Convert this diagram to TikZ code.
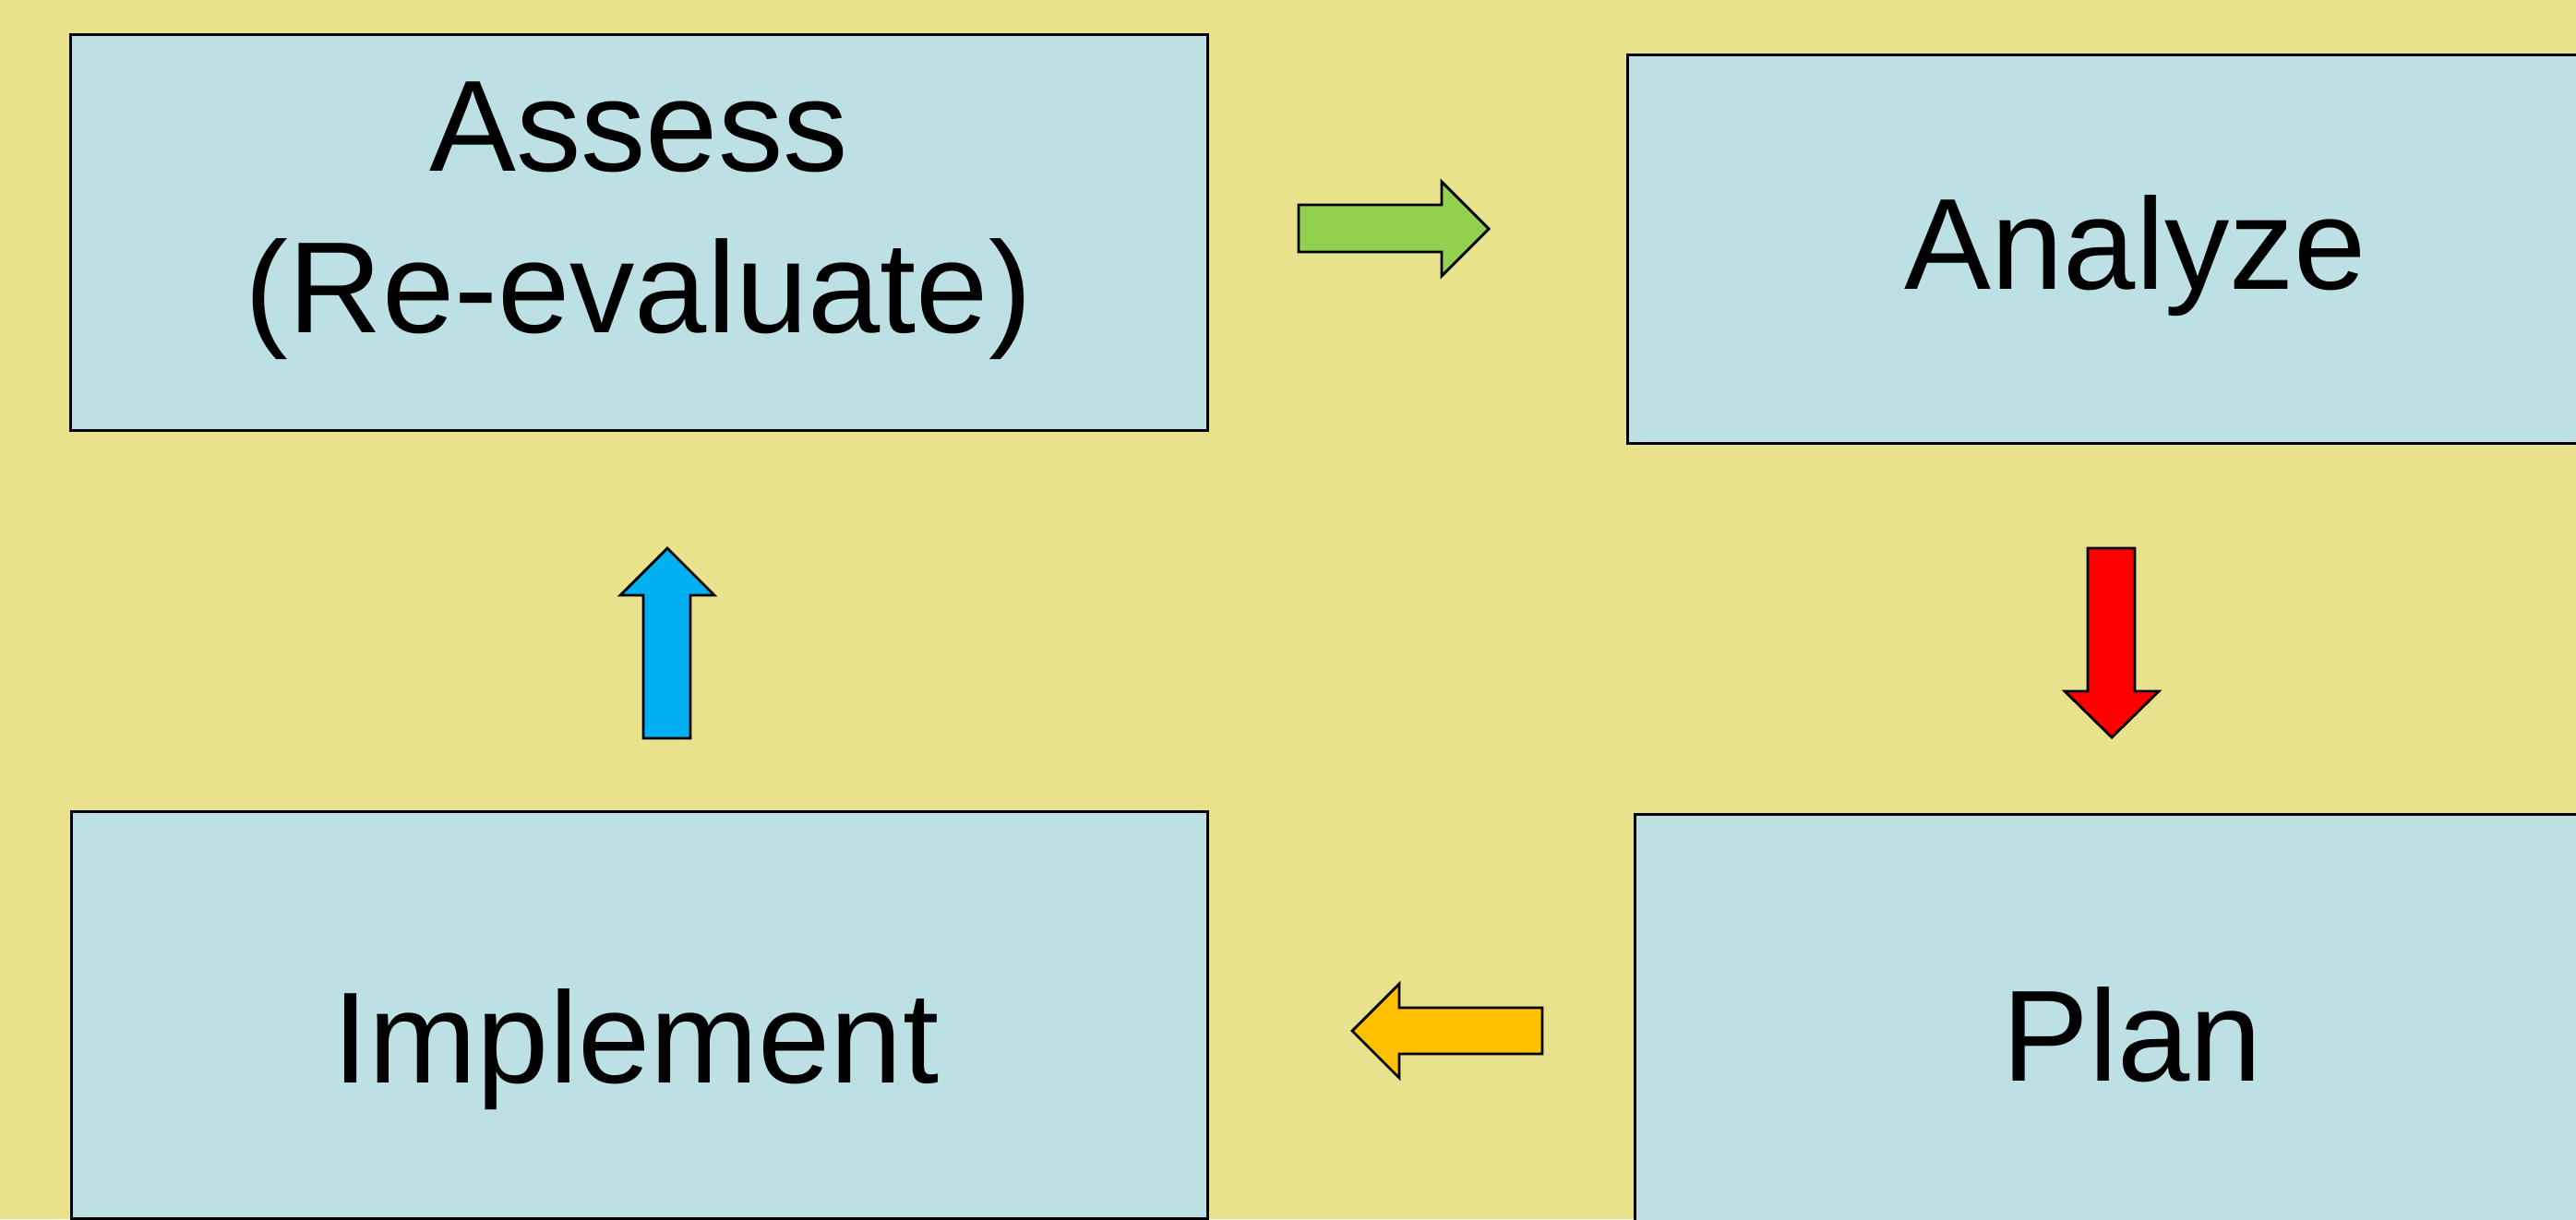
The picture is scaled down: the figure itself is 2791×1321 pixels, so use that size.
\documentclass[tikz,border=0pt]{standalone}
\usepackage{fontspec}
\setmainfont{Liberation Sans}
\definecolor{bgyellow}{RGB}{232,226,140}
\definecolor{boxblue}{RGB}{188,224,228}
\definecolor{arrowgreen}{RGB}{146,208,80}
\definecolor{arrowred}{RGB}{255,0,0}
\definecolor{arroworange}{RGB}{255,192,0}
\definecolor{arrowblue}{RGB}{0,176,240}

\begin{document}
\begin{tikzpicture}[x=0.01cm, y=-0.01cm, line width=0.8pt,
        box/.style = {draw, fill=boxblue, inner sep=0pt},
        boxtext/.style = {anchor=base, align=center, inner sep=0pt, font=\fontsize{40}{49.5}\selectfont},
        blockarrow/.style = {draw, line join=miter}]
        \clip (0,0) rectangle (2791,1321);
        \fill[bgyellow] (0,0) rectangle (2791,1321);
        \node[box, minimum width=12.31cm, minimum height=4.28cm] (assess) at (692.5,252) {};
        \node[box, minimum width=11.00cm, minimum height=4.20cm] (analyze) at (2314,270) {};
        \node[box, minimum width=10.76cm, minimum height=4.40cm] (plan) at (2310,1103) {};
        \node[box, minimum width=12.30cm, minimum height=4.40cm] (implement) at (693,1100) {};
        \node[boxtext] (assesslabel) at (692,360) {Assess\\(Re-evaluate)};
        \node[boxtext] (analyzelabel) at (2314,313) {Analyze};
        \node[boxtext] (planlabel) at (2310,1171) {Plan};
        \node[boxtext] (implementlabel) at (689,1173) {Implement};
        \draw[blockarrow, fill=arrowgreen] (1407,222) -- (1562,222) -- (1562,197) -- (1613,248) -- (1562,299) -- (1562,273) -- (1407,273) -- cycle;
        \draw[blockarrow, fill=arrowred] (2262,594) -- (2313,594) -- (2313,749) -- (2339,749) -- (2288,799) -- (2237,749) -- (2262,749) -- cycle;
        \draw[blockarrow, fill=arroworange] (1671,1092) -- (1516,1092) -- (1516,1066) -- (1465,1117) -- (1516,1168) -- (1516,1142) -- (1671,1142) -- cycle;
        \draw[blockarrow, fill=arrowblue] (697,800) -- (697,645) -- (672,645) -- (723,594) -- (774,645) -- (748,645) -- (748,800) -- cycle;
\end{tikzpicture}
\end{document}
